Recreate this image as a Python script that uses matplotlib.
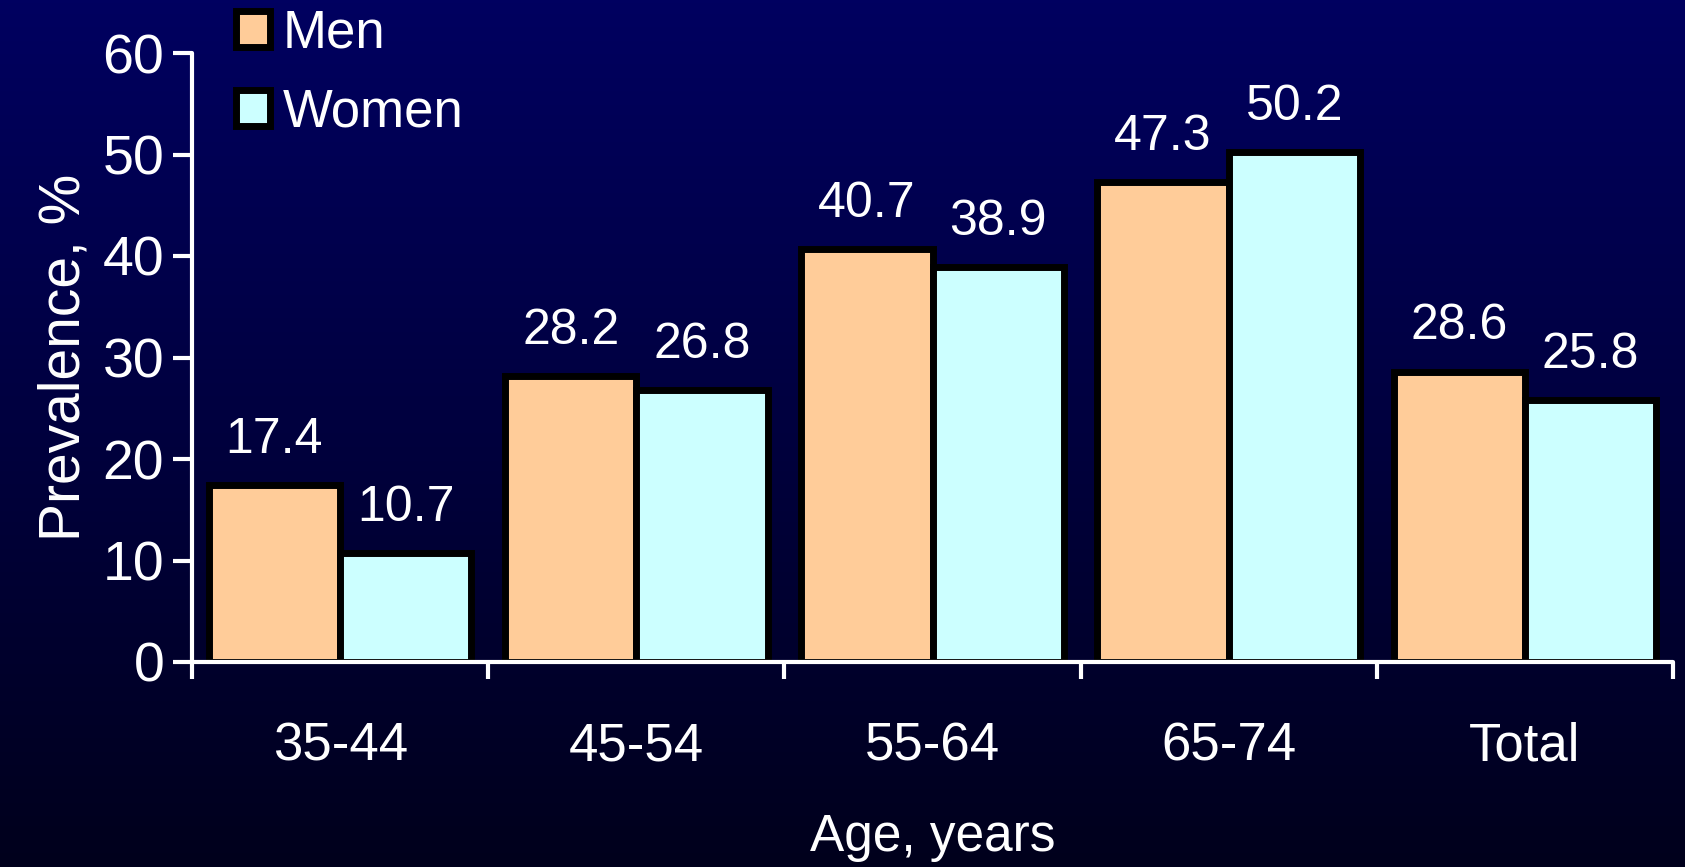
import matplotlib
matplotlib.use("Agg")
import matplotlib.pyplot as plt
import numpy as np
from matplotlib.patches import Patch

categories = ["35-44", "45-54", "55-64", "65-74", "Total"]
men = [17.4, 28.2, 40.7, 47.3, 28.6]
women = [10.7, 26.8, 38.9, 50.2, 25.8]

plt.rcParams['font.family'] = ['Liberation Sans', 'DejaVu Sans']

W, H, DPI = 1685, 867, 100
fig = plt.figure(figsize=(W / DPI, H / DPI), dpi=DPI)

# navy-to-black vertical gradient behind everything
bg = fig.add_axes([0, 0, 1, 1], zorder=0)
top = np.array([0x00, 0x00, 0x60]) / 255
bottom = np.array([0x00, 0x00, 0x1c]) / 255
t = np.linspace(0, 1, 256)[:, None]
grad = (top[None, :] * (1 - t) + bottom[None, :] * t)[:, None, :]
bg.imshow(grad, aspect='auto', extent=[0, 1, 0, 1])
bg.axis('off')

x0, x1 = 192, 1673
y0, y1 = 662, 53
ax = fig.add_axes([x0 / W, (H - y0) / H, (x1 - x0) / W, (y0 - y1) / H], zorder=1)
ax.patch.set_alpha(0)

x = np.arange(len(categories)) + 0.5
bw = 0.443
men_bars = ax.bar(x - bw / 2, men, bw, color='#FFCC99', edgecolor='black',
                  linewidth=5, label='Men', zorder=2)
women_bars = ax.bar(x + bw / 2, women, bw, color='#CCFFFF', edgecolor='black',
                    linewidth=5, label='Women', zorder=2)

for bars, vals in ((men_bars, men), (women_bars, women)):
    for b, v in zip(bars, vals):
        ax.annotate(f"{v:.1f}", (b.get_x() + b.get_width() / 2, v),
                    xytext=(0, 16), textcoords='offset points',
                    ha='center', va='bottom', color='white', fontsize=36)

ax.set_xlim(0, len(categories))
ax.set_ylim(0, 60)
ax.set_yticks(range(0, 61, 10))
ax.set_xticks(range(len(categories) + 1))
ax.set_xticklabels([])
ax.set_xticks(x, minor=True)
ax.set_xticklabels(categories, minor=True)

for s in ('top', 'right'):
    ax.spines[s].set_visible(False)
for s in ('left', 'bottom'):
    ax.spines[s].set_color('white')
    ax.spines[s].set_linewidth(3)
    ax.spines[s].set_capstyle('round')

ax.tick_params(axis='y', colors='white', length=14, width=3, labelsize=40, pad=6)
ax.tick_params(axis='x', which='major', colors='white', length=12, width=3)
ax.tick_params(axis='x', which='minor', colors='white', length=0, labelsize=38, pad=43)

ax.set_ylabel("Prevalence, %", color='white', fontsize=41, labelpad=8)
ax.set_xlabel("Age, years", color='white', fontsize=37, labelpad=30)

handles = [Patch(facecolor='#FFCC99', edgecolor='black', linewidth=5, label='Men'),
           Patch(facecolor='#CCFFFF', edgecolor='black', linewidth=5, label='Women')]
leg = fig.legend(handles=handles, loc='upper left', bbox_to_anchor=(188 / W, 1.045),
                 frameon=False, fontsize=38, labelcolor='white',
                 handlelength=0.65, handleheight=0.65, handletextpad=0.25,
                 labelspacing=0.55)

fig.savefig("out.png", dpi=DPI)
